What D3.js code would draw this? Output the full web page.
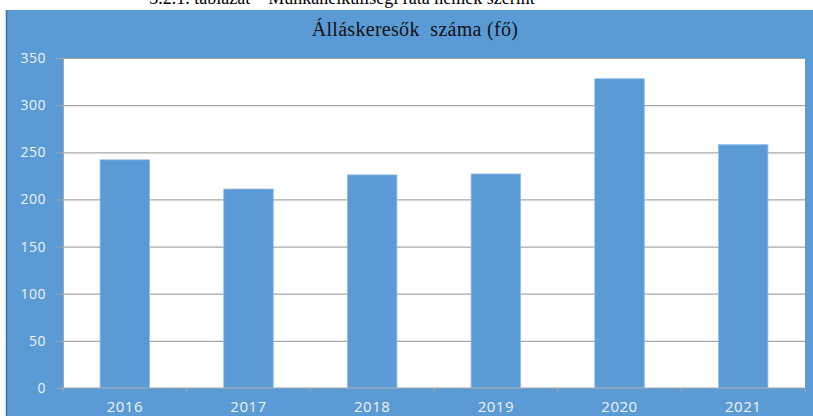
<!DOCTYPE html>
<html>
<head>
<meta charset="utf-8">
<script src="https://cdn.jsdelivr.net/npm/d3@7"></script>
<style>
  body { margin: 0; background: #fff; }
  svg { display: block; }
</style>
</head>
<body>
<div id="chart"></div>
<script>
// chart data
var years = ['2016', '2017', '2018', '2019', '2020', '2021'];
var jobSeekers = [242, 211, 226, 227, 328, 258];
var yTicks = [0, 50, 100, 150, 200, 250, 300, 350];
var caption = '3.2.1. táblázat – Munkanélküliségi ráta nemek szerint';
var title = 'Álláskeresők  száma (fő)';

var width = 813, height = 416;
var plot = { left: 63, top: 58, right: 805, bottom: 388 };
var blue = '#5b9bd5';

var svg = d3.select('#chart').append('svg')
    .attr('width', width)
    .attr('height', height);

// caption, only its lower part shows at the top of the page
svg.append('text')
    .attr('x', 342)
    .attr('y', 4)
    .attr('text-anchor', 'middle')
    .style('font-family', '"Liberation Serif", serif')
    .style('font-size', '18px')
    .style('fill', '#000')
    .text(caption);

// blue chart frame
svg.append('rect')
    .attr('x', 6)
    .attr('y', 10)
    .attr('width', width - 6)
    .attr('height', height - 10)
    .attr('fill', blue);
svg.append('line')
    .attr('x1', 6.5).attr('x2', 6.5)
    .attr('y1', 10).attr('y2', height)
    .attr('stroke', '#41719c')
    .attr('stroke-width', 1.5);

svg.append('text')
    .attr('x', 415)
    .attr('y', 36)
    .attr('text-anchor', 'middle')
    .style('font-family', '"Liberation Serif", serif')
    .style('font-size', '20px')
    .style('letter-spacing', '0.3px')
    .style('white-space', 'pre')
    .style('fill', '#111')
    .text(title);

// plot area
svg.append('rect')
    .attr('x', plot.left)
    .attr('y', plot.top)
    .attr('width', plot.right - plot.left)
    .attr('height', plot.bottom - plot.top)
    .attr('fill', '#fff');

var x = d3.scaleBand()
    .domain(years)
    .range([plot.left, plot.right])
    .paddingInner(0.6)
    .paddingOuter(0.3);

var y = d3.scaleLinear()
    .domain([0, 350])
    .range([plot.bottom, plot.top]);

// gridlines
svg.append('g')
    .selectAll('line')
    .data(yTicks.filter(function(d) { return d > 0; }))
    .enter().append('line')
        .attr('x1', plot.left)
        .attr('x2', plot.right)
        .attr('y1', function(d) { return y(d) + 0.5; })
        .attr('y2', function(d) { return y(d) + 0.5; })
        .attr('stroke', '#a6a6a6')
        .attr('stroke-width', 1.2);

// bars
svg.append('g')
    .selectAll('rect')
    .data(jobSeekers)
    .enter().append('rect')
        .attr('x', function(d, i) { return x(years[i]); })
        .attr('y', function(d) { return y(d); })
        .attr('width', x.bandwidth())
        .attr('height', function(d) { return y(0) - y(d); })
        .attr('fill', blue)
        .attr('stroke', '#8dbbe6')
        .attr('stroke-width', 0.8);

// y axis
var yAxis = svg.append('g')
    .attr('transform', 'translate(' + plot.left + ',0)')
    .call(d3.axisLeft(y).tickValues(yTicks).tickSize(7).tickPadding(10));
yAxis.select('.domain').attr('stroke', '#a6a6a6');
yAxis.selectAll('.tick line').attr('stroke', '#a6a6a6');
yAxis.selectAll('text')
    .style('font-family', '"Open Sans", sans-serif')
    .style('font-size', '14px')
    .style('letter-spacing', '0.5px')
    .style('fill', '#f2f2f2');

// x axis, ticks between categories
var xAxis = svg.append('g')
    .attr('transform', 'translate(0,' + plot.bottom + ')');
xAxis.append('line')
    .attr('x1', plot.left).attr('x2', plot.right)
    .attr('stroke', '#a6a6a6');
xAxis.selectAll('.sep')
    .data(d3.range(years.length + 1))
    .enter().append('line')
        .attr('class', 'sep')
        .attr('x1', function(i) { return plot.left + i * x.step(); })
        .attr('x2', function(i) { return plot.left + i * x.step(); })
        .attr('y1', 0).attr('y2', 5)
        .attr('stroke', '#a6a6a6');
xAxis.selectAll('.lbl')
    .data(years)
    .enter().append('text')
        .attr('class', 'lbl')
        .attr('x', function(d) { return x(d) + x.bandwidth() / 2; })
        .attr('y', 24)
        .attr('text-anchor', 'middle')
        .style('font-family', '"Open Sans", sans-serif')
        .style('font-size', '15px')
        .style('letter-spacing', '0.5px')
        .style('fill', '#f2f2f2')
        .text(function(d) { return d; });
</script>
</body>
</html>
